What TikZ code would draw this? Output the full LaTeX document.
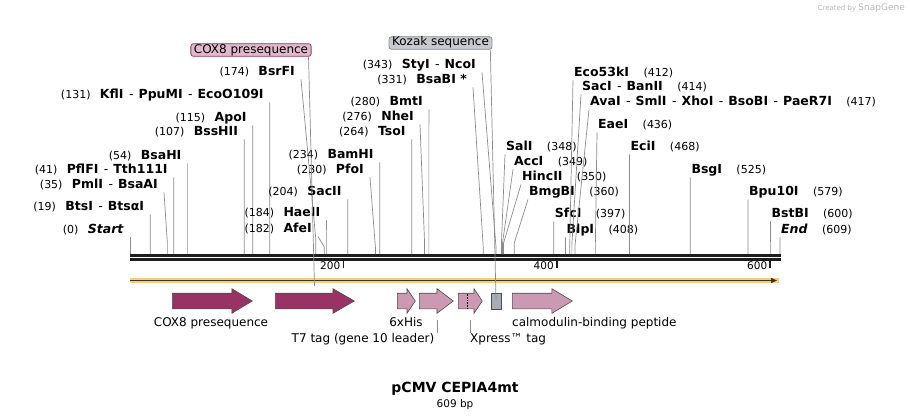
\documentclass[tikz,border=0pt]{standalone}
\usepackage{fontspec}
\setmainfont{DejaVu Sans}
\usepackage{xcolor}
\usetikzlibrary{shapes.arrows,arrows.meta}
\definecolor{cutgray}{HTML}{8C8C8C}
\definecolor{seqblack}{HTML}{1E1E1E}
\definecolor{dirorange}{HTML}{FBCB80}
\definecolor{dirdark}{HTML}{3D3425}
\definecolor{cox8red}{HTML}{993366}
\definecolor{tagpink}{HTML}{CC99B3}
\definecolor{kozakgray}{HTML}{A6ADB4}
\definecolor{featedge}{HTML}{4D4D4D}
\definecolor{cox8box}{HTML}{E0BACC}
\definecolor{kozakbox}{HTML}{C8CACD}
\newcommand{\orsep}{{\mdseries\hspace{5.5pt}-\hspace{5pt}}}
\tikzset{
  site name/.style={inner sep=0pt, text height=9pt, text depth=2.5pt, font=\fontsize{12.5}{14}\selectfont\bfseries},
  site pos/.style={inner sep=0pt, text height=9pt, text depth=2.5pt, font=\fontsize{11}{13}\selectfont},
  cut line/.style={draw=cutgray, line width=0.7pt},
  seq line/.style={draw=seqblack, line width=2.6pt},
  ruler tick/.style={draw=seqblack, line width=1.8pt},
  ruler label/.style={inner sep=0pt, font=\fontsize{10.5}{12}\selectfont},
  feat arrow/.style={shape=single arrow, anchor=tail, draw=featedge, line width=0.6pt, inner sep=0pt,
    text height=7.5pt, text depth=7.5pt, minimum width=24pt,
    single arrow head extend=4.5pt, single arrow head indent=0pt},
  feat label/.style={inner sep=0pt, text height=8.5pt, text depth=2.5pt, font=\fontsize{12}{14}\selectfont},
  feat line/.style={draw=cutgray, line width=0.7pt},
  top label/.style={rounded corners=2.5pt, line width=0.8pt, inner xsep=3pt, inner ysep=0.8pt,
    text height=8.5pt, text depth=2.5pt, font=\fontsize{12}{14}\selectfont}
}

\begin{document}
\begin{tikzpicture}[x=1pt, y=-1pt]
  \useasboundingbox (0,0) rectangle (910,420);

  % sequence and ruler
  \coordinate (seq start) at (130,255.5);
  \coordinate (seq end) at (781,255.5);
  \draw[seq line] (seq start) -- (seq end);
  \draw[seq line, line width=2.4pt] ([yshift=-4pt]seq start) -- ([yshift=-4pt]seq end);
  \foreach \t in {200,400,600} {
    \coordinate (tick \t) at ({130+\t*1.0673},260);
    \draw[ruler tick] (tick \t) -- ++(0,8);
    \node[ruler label, anchor=east] (tick label \t) at ([xshift=-3pt,yshift=-6pt]tick \t) {\t};
  }

  % direction of the sequence
  \coordinate (dir start) at (130,280.5);
  \coordinate (dir end) at (779,280.5);
  \draw[draw=dirorange, line width=5.5pt] (dir start) -- (dir end);
  \draw[draw=dirdark, line width=1.3pt, -{Triangle[length=6pt,width=5pt]}] (dir start) -- ([xshift=-2pt]dir end);

  % sites left of their labels' lines
  \foreach \sid/\sbp/\sname/\sy/\sx/\sbend in {
      start/0/{\textit{Start}}/230/130/254,
      btsi/19/{BtsI\orsep BtsαI}/207/150.3/254,
      pmli/35/{PmlI\orsep BsaAI}/185/164/243,
      pflfi/41/{PflFI\orsep Tth111I}/170/173.8/254,
      bsahi/54/{BsaHI}/156/187.6/254,
      bsshii/107/{BssHII}/132/244.2/254,
      apoi/115/{ApoI}/118/252.7/254,
      kfli/131/{KflI\orsep PpuMI\orsep EcoO109I}/95/269.8/254,
      bsrfi/174/{BsrFI}/72/301/238,
      afei/182/{AfeI}/229/318/247,
      haeii/184/{HaeII}/213/326.4/254,
      sacii/204/{SacII}/192/347.7/254,
      pfoi/230/{PfoI}/170/370/248,
      bamhi/234/{BamHI}/155/379.8/254,
      tsoi/264/{TsoI}/132/411.8/254,
      nhei/276/{NheI}/117/420/243,
      bmti/280/{BmtI}/102/428.9/254,
      bsabi/331/{BsaBI *}/80/473/248,
      styi/343/{StyI\orsep NcoI}/65/482/248} {
    \node[site name, anchor=east] (\sid) at (\sx-6,\sy) {\sname};
    \node[site pos, anchor=east] (\sid\space pos) at ([xshift=-9pt]\sid.west) {(\sbp)};
    \coordinate (\sid\space cut) at ({130+\sbp*1.0673},254);
    \coordinate (\sid\space bend) at ({130+\sbp*1.0673},\sbend);
    \draw[cut line] ([xshift=6pt,yshift=-1.5pt]\sid.south east) -- (\sid\space bend) -- (\sid\space cut);
  }

  % sites right of their labels' lines
  \foreach \sid/\sbp/\sname/\sy/\sx/\sbend in {
      sali/348/{SalI}/147/505/243,
      acci/349/{AccI}/162/513/243,
      hincii/350/{HincII}/177/521/243,
      bmgbi/360/{BmgBI}/192/528/243,
      sfci/397/{SfcI}/214/553.7/254,
      blpi/408/{BlpI}/230/565.5/254,
      eco53ki/412/{Eco53kI}/73/573/245,
      saci/414/{SacI\orsep BanII}/87/581/245,
      avai/417/{AvaI\orsep SmlI\orsep XhoI\orsep BsoBI\orsep PaeR7I}/102/589/245,
      eaei/436/{EaeI}/125/597/245,
      ecii/468/{EciI}/147/629.5/254,
      bsgi/525/{BsgI}/170/690.3/254,
      bpui/579/{Bpu10I}/192/748/254,
      bstbi/600/{BstBI}/214/770.4/254,
      end/609/{\textit{End}}/230/780/254} {
    \node[site name, anchor=west] (\sid) at (\sx+1,\sy) {\sname};
    \node[site pos, anchor=west] (\sid\space pos) at ([xshift=14pt]\sid.east) {(\sbp)};
    \coordinate (\sid\space cut) at ({130+\sbp*1.0673},254);
    \coordinate (\sid\space bend) at ({130+\sbp*1.0673},\sbend);
    \draw[cut line] ([xshift=-1pt,yshift=-1.5pt]\sid.south west) -- (\sid\space bend) -- (\sid\space cut);
  }

  % features
  \node[feat arrow, fill=cox8red, minimum height=80pt, single arrow tip angle=62] (cox8a) at (172,301) {};
  \node[feat arrow, fill=cox8red, minimum height=79pt, single arrow tip angle=60] (cox8b) at (275,301) {};
  \node[feat arrow, fill=tagpink, minimum height=18pt, single arrow tip angle=112] (his) at (397,301) {};
  \node[feat arrow, fill=tagpink, minimum height=34pt, single arrow tip angle=74] (t7) at (419,301) {};
  \node[feat arrow, fill=tagpink, minimum height=24pt, single arrow tip angle=112] (xpress) at (458,301) {};
  \draw[densely dotted, line width=0.6pt] ([xshift=9pt,yshift=7.5pt]xpress.tail) -- ([xshift=9pt,yshift=-7.5pt]xpress.tail);
  \node[draw=featedge, fill=kozakgray, line width=0.6pt, minimum width=10pt, minimum height=16pt, inner sep=0pt] (kozak) at (496,301) {};
  \node[feat arrow, fill=tagpink, minimum height=60pt, single arrow tip angle=62] (cbp) at (512,301) {};

  \node[feat label] (cox8a label) at (211,323) {COX8 presequence};
  \node[feat label] (his label) at (406,323) {6xHis};
  \node[feat label, anchor=west] (cbp label) at (512,323) {calmodulin-binding peptide};
  \node[feat label] (t7 label) at (363,339) {T7 tag (gene 10 leader)};
  \node[feat label, anchor=west] (xpress label) at (470,339) {Xpress™ tag};
  \draw[feat line] ([xshift=18pt,yshift=-19pt]t7.tail) -- ([xshift=18pt]t7.tail |- t7 label.north);
  \draw[feat line] ([xshift=12pt,yshift=-19pt]xpress.tail) -- ([xshift=12pt]xpress.tail |- xpress label.north);

  \node[top label, draw=cox8red, fill=cox8box] (cox8b label) at (251,50) {COX8 presequence};
  \node[top label, draw=kozakgray!80!black, fill=kozakbox] (kozak label) at (440.5,43) {Kozak sequence};
  \draw[feat line] ([xshift=-3pt]cox8b label.south east) -- ([xshift=39.5pt,yshift=15pt]cox8b.tail);
  \draw[feat line] ([xshift=-2pt]kozak label.south east) -- ([yshift=-7pt]kozak.north);

  % name and size
  \node[font=\fontsize{14}{16}\selectfont\bfseries, inner sep=0pt] (title) at (455,389) {pCMV CEPIA4mt};
  \node[font=\fontsize{10.5}{12}\selectfont, inner sep=0pt] (size) at (455,405) {609 bp};
  \node[font=\fontsize{7}{8}\selectfont, text=gray!55, inner sep=0pt, anchor=east] (made) at (905,8) {Created by \fontsize{9}{10}\selectfont SnapGene};
\end{tikzpicture}
\end{document}
